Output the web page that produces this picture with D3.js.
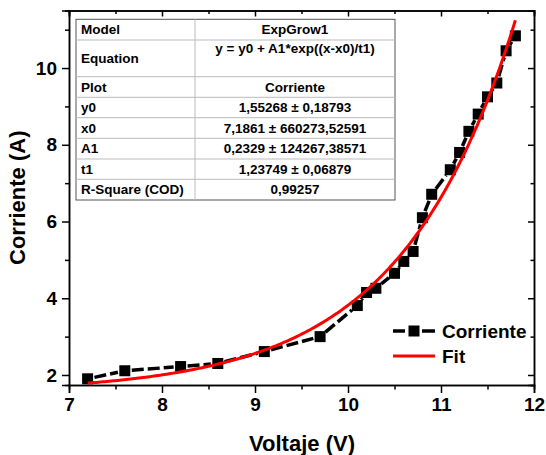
<!DOCTYPE html>
<html>
<head>
<meta charset="utf-8">
<script src="https://cdn.jsdelivr.net/npm/d3@7"></script>
<style>
  html, body { margin: 0; padding: 0; background: #fff; }
  svg { display: block; font-family: "Liberation Sans", Arial, sans-serif; font-weight: bold; }
</style>
</head>
<body>
<svg id="chart" width="546" height="455"></svg>
<script>
// ---- data ----
const voltaje = [7.2, 7.6, 8.2, 8.6, 9.1, 9.7, 10.1, 10.2, 10.3, 10.5, 10.6, 10.7, 10.8, 10.9, 11.1, 11.2, 11.3, 11.4, 11.5, 11.6, 11.7, 11.8];
const corriente = [1.90, 2.11, 2.22, 2.30, 2.61, 3.00, 3.81, 4.15, 4.26, 4.65, 4.96, 5.22, 6.10, 6.71, 7.35, 7.80, 8.35, 8.80, 9.25, 9.61, 10.45, 10.84];
const xTicks = [7, 8, 9, 10, 11, 12];
const yTicks = [2, 4, 6, 8, 10];
const fitParams = { y0: 1.55268, x0: 7.1861, A1: 0.2329, t1: 1.23749 };
const fitRange = [7.2, 11.8];
const tableLabels = ["Model", "Equation", "Plot", "y0", "x0", "A1", "t1", "R-Square (COD)"];
const tableValues = ["ExpGrow1", "y = y0 + A1*exp((x-x0)/t1)", "Corriente", "1,55268 ± 0,18793", "7,1861 ± 660273,52591", "0,2329 ± 124267,38571", "1,23749 ± 0,06879", "0,99257"];
const legendLabels = ["Corriente", "Fit"];

// ---- layout ----
const svg = d3.select("#chart");
const L = 69, R = 534, T = 10.5, B = 385;
const x = d3.scaleLinear().domain([7, 12]).range([L, R]);
const y = d3.scaleLinear().domain([1.739, 11.5]).range([B, T]);

const minorX = d3.range(7.5, 12, 1);
const minorY = d3.range(3, 12, 2);

// axes
const gB = svg.append("g").attr("transform", `translate(0,${B})`)
  .call(d3.axisBottom(x).tickValues(xTicks).tickSize(8).tickPadding(4).tickFormat(d3.format("d")));
const gBm = svg.append("g").attr("transform", `translate(0,${B})`)
  .call(d3.axisBottom(x).tickValues(minorX).tickSize(4.5).tickFormat(""));
const gL = svg.append("g").attr("transform", `translate(${L},0)`)
  .call(d3.axisLeft(y).tickValues(yTicks).tickSize(7).tickPadding(5).tickFormat(d3.format("d")));
const gLm = svg.append("g").attr("transform", `translate(${L},0)`)
  .call(d3.axisLeft(y).tickValues(minorY).tickSize(4).tickFormat(""));
const gT = svg.append("g").attr("transform", `translate(0,${T})`)
  .call(d3.axisBottom(x).tickValues(xTicks).tickSize(6).tickFormat(""));
const gTm = svg.append("g").attr("transform", `translate(0,${T})`)
  .call(d3.axisBottom(x).tickValues(minorX).tickSize(3.5).tickFormat(""));
const gR = svg.append("g").attr("transform", `translate(${R},0)`)
  .call(d3.axisLeft(y).tickValues(yTicks).tickSize(6).tickFormat(""));
const gRm = svg.append("g").attr("transform", `translate(${R},0)`)
  .call(d3.axisLeft(y).tickValues(minorY).tickSize(3.5).tickFormat(""));

[gB, gBm, gL, gLm, gT, gTm, gR, gRm].forEach(g => {
  g.selectAll("path.domain").attr("stroke", "#000").attr("stroke-width", 1.5);
  g.selectAll(".tick line").attr("stroke", "#000").attr("stroke-width", 1.5);
  g.selectAll(".tick text").attr("fill", "#000").attr("font-size", 19)
    .attr("font-family", '"Liberation Sans", Arial, sans-serif').attr("font-weight", "bold");
});
gB.selectAll(".tick text").attr("dy", "0.75em");

// axis titles
svg.append("text").attr("x", 302).attr("y", 451).attr("text-anchor", "middle")
  .attr("font-size", 22).text("Voltaje (V)");
svg.append("text").attr("transform", `translate(25,${(T + B) / 2}) rotate(-90)`)
  .attr("text-anchor", "middle").attr("font-size", 22).text("Corriente (A)");

// fit curve
const fitFn = v => fitParams.y0 + fitParams.A1 * Math.exp((v - fitParams.x0) / fitParams.t1);
const fitXs = d3.range(0, 201).map(i => fitRange[0] + (fitRange[1] - fitRange[0]) * i / 200);
const line = d3.line().x(d => x(d[0])).y(d => y(d[1]));

// data line: segments with gap to symbol
const pts = voltaje.map((v, i) => [x(v), y(corriente[i])]);
const gap = 7;
const segG = svg.append("g");
for (let i = 0; i < pts.length - 1; i++) {
  const [x1, y1] = pts[i], [x2, y2] = pts[i + 1];
  const dx = x2 - x1, dy = y2 - y1, len = Math.hypot(dx, dy);
  if (len <= 2 * gap) continue;
  const ux = dx / len, uy = dy / len;
  segG.append("line")
    .attr("x1", x1 + ux * gap).attr("y1", y1 + uy * gap)
    .attr("x2", x2 - ux * gap).attr("y2", y2 - uy * gap)
    .attr("stroke", "#000").attr("stroke-width", 3.5)
    .attr("stroke-dasharray", "12,4");
}

// markers
svg.append("g").selectAll("rect").data(voltaje).join("rect")
  .attr("x", (d) => x(d) - 5.5).attr("y", (d, i) => y(corriente[i]) - 5.5)
  .attr("width", 11).attr("height", 11).attr("fill", "#000");

svg.append("path").datum(fitXs.map(v => [v, fitFn(v)]))
  .attr("d", line).attr("fill", "none").attr("stroke", "#ff0000").attr("stroke-width", 3);

// table
const tx0 = 76, tx1 = 395, tcol = 195;
const rowH = [20.7, 36.7, 20.6, 20.4, 20.6, 20.7, 20.3, 20.7];
let ty = 19.3;
const tg = svg.append("g");
const rowsY = [ty];
rowH.forEach(h => { ty += h; rowsY.push(ty); });
tg.append("rect").attr("x", tx0).attr("y", rowsY[0]).attr("width", tx1 - tx0)
  .attr("height", rowsY[rowsY.length - 1] - rowsY[0]).attr("fill", "#fff").attr("stroke", "#555").attr("stroke-width", 1);
for (let i = 1; i < rowsY.length - 1; i++) {
  tg.append("line").attr("x1", tx0).attr("x2", tx1).attr("y1", rowsY[i]).attr("y2", rowsY[i])
    .attr("stroke", "#bbb").attr("stroke-width", 1);
}
tg.append("line").attr("x1", tcol).attr("x2", tcol).attr("y1", rowsY[0]).attr("y2", rowsY[rowsY.length - 1])
  .attr("stroke", "#bbb").attr("stroke-width", 1);
tableLabels.forEach((t, i) => {
  const cy = (rowsY[i] + rowsY[i + 1]) / 2;
  tg.append("text").attr("x", 81).attr("y", cy + 4.6).attr("font-size", 13.5).text(t);
  const vy = i === 1 ? rowsY[i] + 12.5 : cy + 4.6;
  tg.append("text").attr("x", (tcol + tx1) / 2).attr("y", vy).attr("text-anchor", "middle")
    .attr("font-size", 13.5).text(tableValues[i]);
});

// legend
const lg = svg.append("g");
const ly1 = 331, ly2 = 356, lx1 = 393, lx2 = 435;
lg.append("line").attr("x1", lx1).attr("x2", lx1 + 12).attr("y1", ly1).attr("y2", ly1)
  .attr("stroke", "#000").attr("stroke-width", 3.5);
lg.append("line").attr("x1", lx2 - 13).attr("x2", lx2).attr("y1", ly1).attr("y2", ly1)
  .attr("stroke", "#000").attr("stroke-width", 3.5);
lg.append("rect").attr("x", (lx1 + lx2) / 2 - 5.5).attr("y", ly1 - 5.5).attr("width", 11).attr("height", 11).attr("fill", "#000");
lg.append("line").attr("x1", lx1).attr("x2", lx2).attr("y1", ly2).attr("y2", ly2)
  .attr("stroke", "#ff0000").attr("stroke-width", 3);
lg.append("text").attr("x", 442).attr("y", ly1 + 7).attr("font-size", 19).text(legendLabels[0]);
lg.append("text").attr("x", 442).attr("y", ly2 + 7).attr("font-size", 19).text(legendLabels[1]);
</script>
</body>
</html>
